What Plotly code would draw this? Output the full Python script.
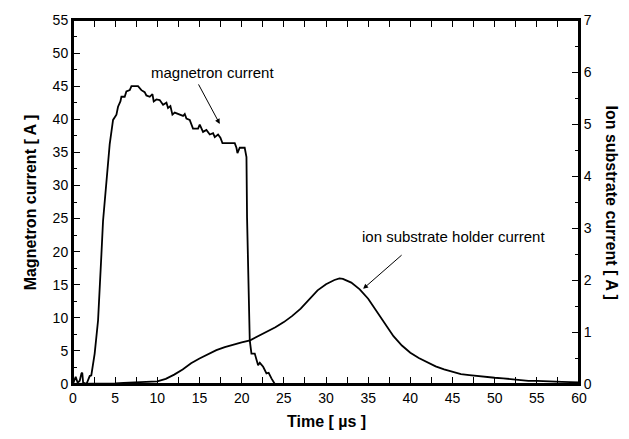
import plotly.graph_objects as go

# Magnetron current (left axis, A) vs time (µs)
mag_t = [0.0, 0.32, 0.55, 0.8, 1.0, 1.1, 1.2, 1.4, 1.6, 1.98, 2.17, 2.57, 2.97, 3.37, 3.56,
         4.35, 4.75, 5.15, 5.34, 5.62, 5.74, 6.13, 6.33, 6.73, 6.93, 7.71, 8.11, 8.5, 8.7,
         9.1, 9.42, 9.57, 9.89, 10.28, 10.68, 11.08, 11.27, 11.55, 11.79, 12.06, 12.66,
         13.05, 13.25, 13.45, 13.84, 14.23, 14.83, 15.03, 15.42, 15.82, 16.22, 16.61,
         16.81, 17.2, 17.48, 17.72, 18.2, 19.18, 19.38, 19.5, 19.77, 20.36, 20.57, 20.64,
         20.96, 21.16, 21.55, 21.95, 22.15, 22.55, 22.94, 23.2, 23.53, 23.93, 25.0]
mag_i = [0.0, 1.1, 0.2, 0.5, 1.6, 1.7, 0.2, 0.1, 0.0, 1.2, 1.3, 4.6, 9.6, 19.6, 24.6,
         36.2, 39.9, 40.7, 41.9, 42.7, 43.4, 43.4, 44.2, 44.4, 45.0, 45.0, 44.4, 44.1, 43.6,
         43.4, 43.8, 42.7, 43.0, 42.9, 42.2, 42.5, 41.7, 42.0, 40.7, 41.0, 40.7,
         40.5, 40.8, 40.1, 39.9, 38.6, 38.6, 39.2, 38.1, 38.4, 37.7, 37.9,
         37.3, 37.7, 37.2, 36.4, 36.4, 36.4, 35.7, 34.9, 35.7, 35.7, 34.3, 25.1,
         6.6, 4.6, 4.6, 2.85, 3.2, 2.6, 1.6, 1.7, 0.85, 0.0, 0.0]

# Ion substrate holder current (right axis, A) vs time (µs)
ion_t = [0, 2, 4, 5, 6, 7, 8, 9, 10, 11, 12, 13, 14, 15, 16, 17, 18, 19, 20, 21, 22, 23,
         24, 25, 26, 27, 28, 29, 30, 31, 31.6, 32, 33, 34, 35, 36, 37, 38, 39, 40, 41, 42,
         43, 44, 45, 46, 47, 48, 49, 50, 51, 52, 53, 54, 55, 56, 57, 58, 59, 60]
ion_i = [0.0, 0.0, 0.0, 0.01, 0.02, 0.03, 0.035, 0.04, 0.05, 0.1, 0.18, 0.28, 0.4, 0.49,
         0.57, 0.65, 0.71, 0.76, 0.8, 0.84, 0.92, 1.0, 1.09, 1.19, 1.31, 1.45, 1.63, 1.8,
         1.92, 2.0, 2.03, 2.02, 1.95, 1.82, 1.64, 1.4, 1.15, 0.92, 0.74, 0.6, 0.5, 0.42,
         0.34, 0.28, 0.23, 0.19, 0.17, 0.15, 0.14, 0.12, 0.11, 0.09, 0.08, 0.06, 0.06,
         0.05, 0.045, 0.04, 0.035, 0.03]

FONT = "Arial, Liberation Sans, sans-serif"

fig = go.Figure()
fig.add_trace(go.Scatter(x=mag_t, y=mag_i, mode="lines",
                         line=dict(color="black", width=1.8), xaxis="x", yaxis="y"))
fig.add_trace(go.Scatter(x=ion_t, y=ion_i, mode="lines",
                         line=dict(color="black", width=1.8), xaxis="x", yaxis="y2"))
# transparent copy on the top axis so that the mirrored time axis is drawn
fig.add_trace(go.Scatter(x=ion_t, y=ion_i, mode="lines",
                         line=dict(color="rgba(0,0,0,0)", width=1), hoverinfo="skip",
                         xaxis="x2", yaxis="y2"))

axis_common = dict(showline=True, linecolor="black", linewidth=2, ticks="inside",
                   ticklen=7, tickwidth=1.3, tickcolor="black", showgrid=False,
                   zeroline=False, tickfont=dict(family=FONT, size=14, color="black"))
minor_common = dict(ticks="inside", ticklen=4, tickcolor="black", tickwidth=1.2)

fig.update_layout(
    width=629, height=439,
    margin=dict(l=73, r=50, t=18, b=55),
    paper_bgcolor="white", plot_bgcolor="white",
    showlegend=False,
    xaxis=dict(range=[0, 60], dtick=5, tick0=0, mirror="allticks",
               minor=dict(dtick=2.5, **minor_common), **axis_common),
    xaxis2=dict(range=[0, 60], dtick=5, tick0=0, overlaying="x", side="top",
                anchor="y2", showticklabels=False,
                minor=dict(dtick=2.5, **minor_common), **axis_common),
    yaxis=dict(range=[0, 55], dtick=5, tick0=0,
               minor=dict(dtick=2.5, **minor_common), **axis_common),
    yaxis2=dict(range=[0, 7], dtick=1, tick0=0, overlaying="y", side="right",
                anchor="x",
                minor=dict(dtick=0.5, **minor_common), **axis_common),
)

# frame around the plotting area
fig.add_shape(type="rect", xref="paper", yref="paper", x0=0, x1=1, y0=0, y1=1,
              line=dict(color="black", width=2), layer="above")

fig.add_annotation(x=30, y=-0.075, xref="x", yref="paper", text="<b>Time [ µs ]</b>",
                   showarrow=False, yanchor="top",
                   font=dict(family=FONT, size=16, color="black"))
fig.add_annotation(x=-0.105, y=0.5, xref="paper", yref="paper",
                   text="<b>Magnetron current [ A ]</b>", textangle=-90, showarrow=False,
                   font=dict(family=FONT, size=16, color="black"))
fig.add_annotation(x=1.085, y=0.5, xref="paper", yref="paper",
                   text="<b>Ion substrate current [ A ]</b>", textangle=90, showarrow=False,
                   font=dict(family=FONT, size=16, color="black"))

fig.add_annotation(x=16.5, y=47.1, xref="x", yref="y", text="magnetron current",
                   showarrow=False, font=dict(family=FONT, size=15, color="black"))
fig.add_annotation(x=17.4, y=39.3, xref="x", yref="y", text="", showarrow=True,
                   ax=-22, ay=-41, arrowhead=2, arrowsize=1, arrowwidth=1, arrowcolor="black")
fig.add_annotation(x=45.1, y=2.83, xref="x", yref="y2", text="ion substrate holder current",
                   showarrow=False, font=dict(family=FONT, size=15, color="black"))
fig.add_annotation(x=34.4, y=1.83, xref="x", yref="y2", text="", showarrow=True,
                   ax=40, ay=-35, arrowhead=2, arrowsize=1, arrowwidth=1, arrowcolor="black")

fig.write_html("out.html", config={"displayModeBar": False},
               post_script="document.body.style.margin='0';")
